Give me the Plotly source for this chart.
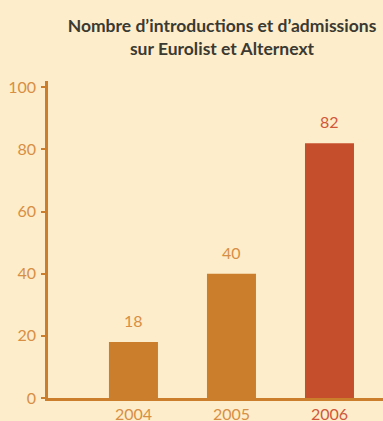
import plotly.graph_objects as go

years = ["2004", "2005", "2006"]
values = [18, 40, 82]
bar_colors = ["#CB7E2B", "#CB7E2B", "#C54F2D"]
label_colors = ["#D78F45", "#D78F45", "#D0583A"]
y_ticks = [0, 20, 40, 60, 80, 100]
title_text = "Nombre d’introductions et d’admissions<br>sur Eurolist et Alternext"

bg = "#FEEDCA"
axis_col = "#CB7E2B"
tick_font = dict(family="Lato", size=16)

fig = go.Figure()
fig.add_trace(go.Bar(
    x=list(range(len(years))), y=values,
    marker=dict(color=bar_colors, line=dict(width=0)),
    width=0.5,
    hoverinfo="skip",
))

for i, (v, c) in enumerate(zip(values, label_colors)):
    fig.add_annotation(x=i, y=v, text=str(v), showarrow=False,
                       yanchor="bottom", yshift=10,
                       font=dict(tick_font, color=c))

tick_text = [f"<span style='color:{c}'>{y}</span>" for y, c in zip(years, label_colors)]

fig.update_layout(
    width=383, height=421,
    paper_bgcolor=bg, plot_bgcolor=bg,
    margin=dict(l=48, r=0, t=81, b=22.5, autoexpand=False),
    showlegend=False,
    title=dict(text="<b>" + title_text + "</b>", x=222/383, xanchor="center",
               y=0.923, yanchor="top",
               font=dict(family="Lato", size=17.5, color="#3A3A33")),
    xaxis=dict(
        range=[-0.872, 2.546],
        tickmode="array", tickvals=list(range(len(years))), ticktext=tick_text,
        showline=True, linecolor=axis_col, linewidth=2.5,
        ticks="", showgrid=False, zeroline=False, automargin=False,
        tickfont=dict(tick_font, color="#D78F45"),
        ticklabelstandoff=0,
    ),
    yaxis=dict(
        range=[0, 102],
        tickmode="array", tickvals=y_ticks,
        showline=True, linecolor=axis_col, linewidth=2.5,
        ticks="outside", ticklen=4, tickwidth=2, tickcolor=axis_col,
        showgrid=False, zeroline=False, automargin=False,
        tickfont=dict(tick_font, color="#D78F45"),
        ticklabelstandoff=2,
    ),
)

fig.write_html("out.html")
